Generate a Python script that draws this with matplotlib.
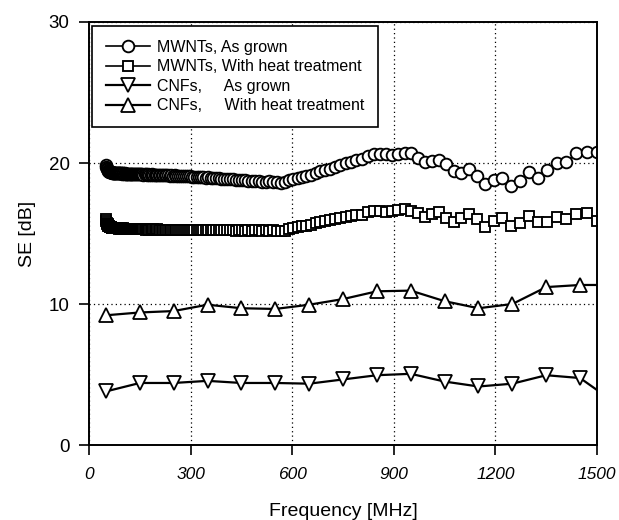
import matplotlib
matplotlib.use('Agg')
import matplotlib.pyplot as plt

plt.rcParams['font.family'] = ['Liberation Sans', 'DejaVu Sans']

# ---- data ----
freq = [50.4, 51.5, 52.6, 53.7, 54.8, 55.9, 57.1, 58.3, 59.5, 60.7,
        62.0, 63.3, 64.6, 66.0, 67.4, 68.8, 70.2, 71.7, 73.2, 74.7,
        76.3, 77.8, 79.5, 81.1, 82.8, 84.6, 86.3, 88.1, 90.0, 91.9,
        93.8, 95.7, 97.7, 99.8, 101.8, 104.0, 106.1, 108.4, 110.6, 112.9,
        115.3, 117.7, 120.2, 122.7, 125.2, 127.9, 130.5, 133.3, 136.0, 138.9,
        141.8, 144.8, 147.8, 150.9, 154.0, 157.2, 160.5, 163.9, 167.3, 170.8,
        174.4, 178.0, 181.7, 185.5, 189.4, 193.4, 197.4, 201.5, 205.7, 210.0,
        214.4, 218.9, 223.5, 228.2, 232.9, 237.8, 242.8, 247.8, 253.0, 258.3,
        263.7, 269.2, 274.9, 280.6, 286.5, 292.5, 298.6, 304.8, 311.2, 317.7,
        324.3, 331.1, 338.0, 345.1, 352.3, 359.7, 367.2, 374.9, 382.7, 390.7,
        398.9, 407.2, 415.7, 424.4, 433.3, 442.3, 451.6, 461.0, 470.7, 480.5,
        490.5, 500.8, 511.3, 522.0, 532.9, 544.0, 555.4, 567.0, 578.9, 591.0,
        603.4, 616.0, 628.9, 642.0, 655.4, 669.1, 683.1, 697.4, 712.0, 726.9,
        742.1, 757.6, 773.4, 789.6, 806.1, 823.0, 840.2, 857.8, 875.7, 894.0,
        912.7, 931.8, 951.3, 971.2, 991.5, 1012.2, 1033.4, 1055.0, 1077.1, 1099.6,
        1122.6, 1146.1, 1170.1, 1194.6, 1219.6, 1245.1, 1271.1, 1297.7, 1324.8, 1352.5,
        1380.8, 1409.7, 1439.2, 1469.3, 1500.0]

mwnt_grown = [19.85, 19.72, 19.62, 19.55, 19.48, 19.45, 19.42, 19.40, 19.38, 19.37,
              19.36, 19.35, 19.33, 19.34, 19.32, 19.33, 19.31, 19.32, 19.30, 19.31,
              19.30, 19.29, 19.31, 19.28, 19.30, 19.29, 19.27, 19.29, 19.28, 19.26,
              19.28, 19.27, 19.25, 19.27, 19.26, 19.24, 19.26, 19.25, 19.23, 19.25,
              19.24, 19.22, 19.25, 19.23, 19.21, 19.24, 19.22, 19.20, 19.23, 19.21,
              19.22, 19.20, 19.22, 19.19, 19.21, 19.20, 19.18, 19.21, 19.19, 19.17,
              19.20, 19.18, 19.16, 19.19, 19.17, 19.15, 19.18, 19.16, 19.14, 19.16,
              19.15, 19.13, 19.15, 19.12, 19.14, 19.11, 19.13, 19.10, 19.12, 19.09,
              19.11, 19.08, 19.10, 19.07, 19.08, 19.05, 19.06, 19.03, 19.04, 19.01,
              19.02, 18.99, 19.00, 18.97, 18.98, 18.95, 18.96, 18.93, 18.93, 18.90,
              18.90, 18.87, 18.87, 18.84, 18.83, 18.80, 18.78, 18.76, 18.74, 18.72,
              18.70, 18.72, 18.68, 18.65, 18.70, 18.66, 18.62, 18.60, 18.68, 18.78,
              18.90, 18.95, 19.00, 19.05, 19.15, 19.30, 19.40, 19.50, 19.60, 19.70,
              19.85, 20.00, 20.10, 20.20, 20.28, 20.50, 20.62, 20.65, 20.62, 20.60,
              20.62, 20.72, 20.68, 20.38, 20.10, 20.12, 20.20, 19.95, 19.45, 19.30,
              19.60, 19.05, 18.50, 18.80, 18.95, 18.35, 18.75, 19.35, 18.95, 19.50,
              20.00, 20.10, 20.70, 20.80, 20.75]

mwnt_heat = [16.00, 15.88, 15.78, 15.70, 15.64, 15.59, 15.55, 15.52, 15.50, 15.48,
             15.47, 15.45, 15.44, 15.43, 15.42, 15.41, 15.40, 15.41, 15.39, 15.40,
             15.38, 15.39, 15.37, 15.38, 15.36, 15.38, 15.36, 15.37, 15.35, 15.37,
             15.35, 15.36, 15.34, 15.36, 15.33, 15.35, 15.34, 15.32, 15.35, 15.33,
             15.34, 15.32, 15.34, 15.31, 15.33, 15.32, 15.30, 15.33, 15.31, 15.32,
             15.30, 15.32, 15.30, 15.31, 15.29, 15.31, 15.29, 15.30, 15.28, 15.30,
             15.29, 15.28, 15.30, 15.27, 15.29, 15.28, 15.26, 15.29, 15.27, 15.28,
             15.26, 15.28, 15.26, 15.27, 15.25, 15.27, 15.25, 15.26, 15.24, 15.26,
             15.25, 15.26, 15.24, 15.25, 15.23, 15.26, 15.24, 15.25, 15.23, 15.25,
             15.24, 15.26, 15.23, 15.25, 15.27, 15.24, 15.22, 15.25, 15.23, 15.26,
             15.24, 15.22, 15.25, 15.23, 15.21, 15.24, 15.22, 15.20, 15.23, 15.21,
             15.24, 15.22, 15.19, 15.22, 15.20, 15.23, 15.18, 15.15, 15.20, 15.30,
             15.42, 15.45, 15.50, 15.55, 15.62, 15.72, 15.82, 15.88, 15.95, 16.00,
             16.08, 16.15, 16.22, 16.30, 16.32, 16.50, 16.58, 16.60, 16.55, 16.62,
             16.65, 16.72, 16.62, 16.42, 16.20, 16.38, 16.55, 16.12, 15.85, 16.08,
             16.38, 16.00, 15.45, 15.88, 16.10, 15.55, 15.72, 16.25, 15.80, 15.80,
             16.15, 16.00, 16.35, 16.42, 15.90]

cnf_freq = [50, 150, 250, 350, 450, 550, 650, 750, 850, 950,
            1050, 1150, 1250, 1350, 1450, 1500]
cnf_grown = [3.8, 4.4, 4.4, 4.55, 4.4, 4.4, 4.35, 4.65, 4.95, 5.05,
             4.5, 4.15, 4.35, 4.95, 4.75, 3.9]
cnf_heat = [9.2, 9.4, 9.5, 9.95, 9.7, 9.65, 9.95, 10.35, 10.9, 10.95,
            10.2, 9.7, 10.0, 11.2, 11.35, 11.35]

labels = ['MWNTs, As grown', 'MWNTs, With heat treatment',
          'CNFs,     As grown', 'CNFs,     With heat treatment']
xticks = [0, 300, 600, 900, 1200, 1500]
yticks = [0, 10, 20, 30]

# ---- figure ----
fig = plt.figure(figsize=(6.19, 5.20), dpi=100)
ax = fig.add_axes([0.1438, 0.1442, 0.8207, 0.8135])

mk = dict(mfc='white', mec='black', color='black')
ax.plot(freq, mwnt_grown, '-', lw=1.2, marker='o', ms=8.4, mew=1.35,
        label=labels[0], **mk)
ax.plot(freq, mwnt_heat, '-', lw=1.2, marker='s', ms=7.4, mew=1.35,
        label=labels[1], **mk)
mev = list(range(len(cnf_freq) - 1))
ax.plot(cnf_freq, cnf_grown, '-', lw=1.6, marker='v', ms=9.5, mew=1.3,
        markevery=mev, label=labels[2], **mk)
ax.plot(cnf_freq, cnf_heat, '-', lw=1.6, marker='^', ms=9.5, mew=1.3,
        markevery=mev, label=labels[3], **mk)

ax.set_xlim(0, 1500)
ax.set_ylim(0, 30)
ax.set_xticks(xticks)
ax.set_yticks(yticks)
ax.set_axisbelow(True)
ax.grid(True, linestyle=(0, (1, 2.5)), color='black', lw=0.9)
for s in ax.spines.values():
    s.set_linewidth(1.4)
ax.tick_params(direction='out', length=7, width=1.2)
ax.tick_params(axis='y', pad=7, labelsize=13.5)
ax.tick_params(axis='x', pad=9, labelsize=12.5)
for lbl in ax.get_xticklabels():
    lbl.set_style('italic')

ax.set_xlabel('Frequency [MHz]', fontsize=14, labelpad=15)
ax.set_ylabel('SE [dB]', fontsize=14, labelpad=9)

leg = ax.legend(loc='upper left', bbox_to_anchor=(0.006, 0.99), fontsize=11.5,
                frameon=True, fancybox=False, framealpha=1, edgecolor='black',
                handlelength=2.8, handletextpad=0.42, labelspacing=0.28,
                borderpad=0.85, borderaxespad=0.0)
leg.get_frame().set_linewidth(1.2)

fig.savefig('out.png', dpi=100)
